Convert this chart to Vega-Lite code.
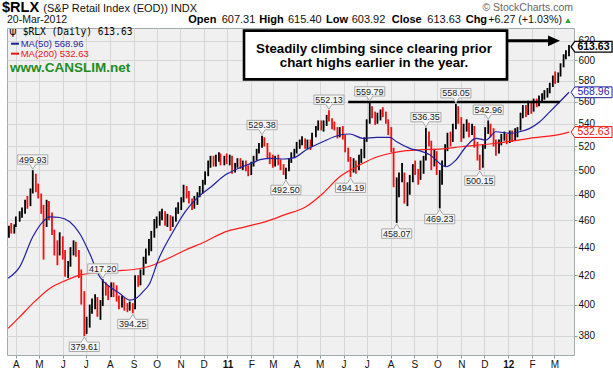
{
"$schema": "https://vega.github.io/schema/vega-lite/v6.json",
"width": 567, "height": 327,
"autosize": "none",
"padding": {"left": 7, "top": 28, "right": 39, "bottom": 17},
"background": "#ffffff",
"config": {
  "view": {"fill": "#f0f0f0", "stroke": "#a0adad", "strokeWidth": 1},
  "font": "Liberation Sans",
  "text": {"font": "Liberation Sans"}
},
"datasets": {
"px": [
{"d":"2010-03-23","o":449,"h":456,"l":447,"c":454},
{"d":"2010-03-26","o":454,"h":458,"l":450,"c":452},
{"d":"2010-03-30","o":452,"h":457,"l":450,"c":456},
{"d":"2010-04-01","o":456,"h":463,"l":455,"c":461},
{"d":"2010-04-06","o":461,"h":467,"l":459,"c":466},
{"d":"2010-04-09","o":466,"h":470,"l":462,"c":468},
{"d":"2010-04-13","o":468,"h":476,"l":465,"c":474},
{"d":"2010-04-16","o":474,"h":479,"l":469,"c":472},
{"d":"2010-04-20","o":472,"h":485,"l":471,"c":483},
{"d":"2010-04-23","o":483,"h":499.93,"l":481,"c":495},
{"d":"2010-04-27","o":495,"h":497,"l":482,"c":485},
{"d":"2010-04-30","o":485,"h":489,"l":477,"c":479},
{"d":"2010-05-04","o":479,"h":481,"l":465,"c":467},
{"d":"2010-05-07","o":467,"h":472,"l":431,"c":457},
{"d":"2010-05-11","o":457,"h":476,"l":455,"c":471},
{"d":"2010-05-14","o":471,"h":475,"l":460,"c":462},
{"d":"2010-05-18","o":462,"h":466,"l":449,"c":451},
{"d":"2010-05-21","o":451,"h":453,"l":434,"c":442},
{"d":"2010-05-25","o":442,"h":445,"l":427,"c":436},
{"d":"2010-05-28","o":436,"h":451,"l":434,"c":446},
{"d":"2010-06-01","o":446,"h":448,"l":431,"c":433},
{"d":"2010-06-04","o":433,"h":438,"l":419,"c":422},
{"d":"2010-06-08","o":422,"h":430,"l":418,"c":428},
{"d":"2010-06-11","o":428,"h":440,"l":426,"c":438},
{"d":"2010-06-15","o":438,"h":445,"l":434,"c":443},
{"d":"2010-06-18","o":443,"h":444,"l":433,"c":436},
{"d":"2010-06-22","o":436,"h":438,"l":418,"c":421},
{"d":"2010-06-25","o":421,"h":424,"l":400,"c":406},
{"d":"2010-06-29","o":406,"h":409,"l":379.61,"c":386},
{"d":"2010-07-02","o":386,"h":392,"l":381,"c":388},
{"d":"2010-07-06","o":388,"h":400,"l":385,"c":397},
{"d":"2010-07-09","o":397,"h":404,"l":394,"c":402},
{"d":"2010-07-13","o":402,"h":407,"l":397,"c":404},
{"d":"2010-07-16","o":404,"h":405,"l":392,"c":394},
{"d":"2010-07-20","o":394,"h":403,"l":390,"c":401},
{"d":"2010-07-23","o":401,"h":417.2,"l":399,"c":412},
{"d":"2010-07-27","o":412,"h":415,"l":406,"c":410},
{"d":"2010-07-30","o":410,"h":413,"l":403,"c":407},
{"d":"2010-08-03","o":407,"h":415,"l":405,"c":413},
{"d":"2010-08-06","o":413,"h":415,"l":405,"c":409},
{"d":"2010-08-10","o":409,"h":413,"l":402,"c":405},
{"d":"2010-08-13","o":405,"h":406,"l":397,"c":399},
{"d":"2010-08-17","o":399,"h":406,"l":398,"c":404},
{"d":"2010-08-20","o":404,"h":405,"l":396,"c":399},
{"d":"2010-08-24","o":399,"h":401,"l":395,"c":397},
{"d":"2010-08-27","o":397,"h":402,"l":396,"c":400},
{"d":"2010-08-31","o":400,"h":401,"l":394.25,"c":398},
{"d":"2010-09-03","o":398,"h":420,"l":397,"c":418},
{"d":"2010-09-07","o":418,"h":420,"l":412,"c":414},
{"d":"2010-09-10","o":414,"h":424,"l":413,"c":422},
{"d":"2010-09-14","o":422,"h":433,"l":420,"c":430},
{"d":"2010-09-17","o":430,"h":439,"l":428,"c":436},
{"d":"2010-09-21","o":436,"h":446,"l":434,"c":444},
{"d":"2010-09-24","o":444,"h":452,"l":437,"c":450},
{"d":"2010-09-28","o":450,"h":461,"l":447,"c":457},
{"d":"2010-10-01","o":457,"h":463,"l":454,"c":459},
{"d":"2010-10-05","o":459,"h":467,"l":456,"c":465},
{"d":"2010-10-08","o":465,"h":469,"l":460,"c":466},
{"d":"2010-10-12","o":466,"h":467,"l":456,"c":459},
{"d":"2010-10-15","o":459,"h":465,"l":455,"c":463},
{"d":"2010-10-19","o":463,"h":464,"l":452,"c":456},
{"d":"2010-10-22","o":456,"h":463,"l":455,"c":461},
{"d":"2010-10-26","o":461,"h":470,"l":459,"c":468},
{"d":"2010-10-29","o":468,"h":474,"l":465,"c":471},
{"d":"2010-11-02","o":471,"h":478,"l":468,"c":476},
{"d":"2010-11-05","o":476,"h":488,"l":474,"c":486},
{"d":"2010-11-09","o":486,"h":487,"l":477,"c":480},
{"d":"2010-11-12","o":480,"h":483,"l":473,"c":475},
{"d":"2010-11-16","o":475,"h":477,"l":468,"c":470},
{"d":"2010-11-19","o":470,"h":479,"l":469,"c":477},
{"d":"2010-11-23","o":477,"h":482,"l":472,"c":479},
{"d":"2010-11-26","o":479,"h":487,"l":478,"c":485},
{"d":"2010-11-30","o":485,"h":492,"l":481,"c":489},
{"d":"2010-12-03","o":489,"h":499,"l":488,"c":497},
{"d":"2010-12-07","o":497,"h":508,"l":495,"c":505},
{"d":"2010-12-10","o":505,"h":512,"l":502,"c":510},
{"d":"2010-12-14","o":510,"h":512,"l":503,"c":505},
{"d":"2010-12-17","o":505,"h":513,"l":503,"c":511},
{"d":"2010-12-21","o":511,"h":515,"l":507,"c":513},
{"d":"2010-12-23","o":513,"h":514,"l":504,"c":507},
{"d":"2010-12-28","o":507,"h":512,"l":504,"c":510},
{"d":"2010-12-31","o":510,"h":514,"l":505,"c":508},
{"d":"2011-01-04","o":508,"h":513,"l":504,"c":511},
{"d":"2011-01-07","o":511,"h":512,"l":497,"c":500},
{"d":"2011-01-11","o":500,"h":506,"l":498,"c":504},
{"d":"2011-01-14","o":504,"h":510,"l":502,"c":508},
{"d":"2011-01-18","o":508,"h":510,"l":501,"c":503},
{"d":"2011-01-21","o":503,"h":508,"l":500,"c":506},
{"d":"2011-01-25","o":506,"h":508,"l":499,"c":501},
{"d":"2011-01-28","o":501,"h":504,"l":495,"c":497},
{"d":"2011-02-01","o":497,"h":507,"l":496,"c":505},
{"d":"2011-02-04","o":505,"h":512,"l":503,"c":510},
{"d":"2011-02-08","o":510,"h":518,"l":508,"c":516},
{"d":"2011-02-11","o":516,"h":523,"l":514,"c":521},
{"d":"2011-02-15","o":521,"h":529.38,"l":519,"c":525},
{"d":"2011-02-18","o":525,"h":528,"l":520,"c":522},
{"d":"2011-02-22","o":522,"h":523,"l":510,"c":512},
{"d":"2011-02-25","o":512,"h":515,"l":505,"c":509},
{"d":"2011-03-01","o":509,"h":513,"l":502,"c":504},
{"d":"2011-03-04","o":504,"h":512,"l":503,"c":510},
{"d":"2011-03-08","o":510,"h":513,"l":504,"c":507},
{"d":"2011-03-11","o":507,"h":509,"l":500,"c":503},
{"d":"2011-03-15","o":503,"h":505,"l":496,"c":498},
{"d":"2011-03-18","o":498,"h":502,"l":492.5,"c":500},
{"d":"2011-03-22","o":500,"h":510,"l":499,"c":508},
{"d":"2011-03-25","o":508,"h":515,"l":506,"c":513},
{"d":"2011-03-29","o":513,"h":518,"l":510,"c":516},
{"d":"2011-04-01","o":516,"h":524,"l":514,"c":521},
{"d":"2011-04-05","o":521,"h":526,"l":518,"c":524},
{"d":"2011-04-08","o":524,"h":529,"l":521,"c":526},
{"d":"2011-04-12","o":526,"h":527,"l":518,"c":520},
{"d":"2011-04-15","o":520,"h":526,"l":518,"c":524},
{"d":"2011-04-19","o":524,"h":526,"l":517,"c":521},
{"d":"2011-04-21","o":521,"h":532,"l":520,"c":530},
{"d":"2011-04-26","o":530,"h":538,"l":528,"c":536},
{"d":"2011-04-29","o":536,"h":543,"l":534,"c":541},
{"d":"2011-05-03","o":541,"h":543,"l":534,"c":537},
{"d":"2011-05-06","o":537,"h":543,"l":533,"c":540},
{"d":"2011-05-10","o":540,"h":548,"l":538,"c":546},
{"d":"2011-05-13","o":546,"h":552.13,"l":542,"c":544},
{"d":"2011-05-17","o":544,"h":545,"l":535,"c":538},
{"d":"2011-05-20","o":538,"h":542,"l":534,"c":536},
{"d":"2011-05-24","o":536,"h":537,"l":527,"c":530},
{"d":"2011-05-27","o":530,"h":537,"l":528,"c":534},
{"d":"2011-05-31","o":534,"h":538,"l":526,"c":529},
{"d":"2011-06-03","o":529,"h":530,"l":515,"c":517},
{"d":"2011-06-07","o":517,"h":519,"l":507,"c":509},
{"d":"2011-06-10","o":509,"h":511,"l":494.19,"c":500},
{"d":"2011-06-14","o":500,"h":510,"l":498,"c":507},
{"d":"2011-06-17","o":507,"h":508,"l":497,"c":502},
{"d":"2011-06-21","o":502,"h":513,"l":500,"c":511},
{"d":"2011-06-24","o":511,"h":518,"l":506,"c":512},
{"d":"2011-06-28","o":512,"h":528,"l":510,"c":526},
{"d":"2011-07-01","o":526,"h":544,"l":524,"c":542},
{"d":"2011-07-05","o":542,"h":559.79,"l":540,"c":553},
{"d":"2011-07-08","o":553,"h":556,"l":545,"c":549},
{"d":"2011-07-12","o":549,"h":551,"l":539,"c":542},
{"d":"2011-07-15","o":542,"h":550,"l":540,"c":547},
{"d":"2011-07-19","o":547,"h":553,"l":543,"c":551},
{"d":"2011-07-22","o":551,"h":555,"l":546,"c":549},
{"d":"2011-07-26","o":549,"h":551,"l":540,"c":542},
{"d":"2011-07-29","o":542,"h":544,"l":530,"c":535},
{"d":"2011-08-02","o":535,"h":537,"l":515,"c":517},
{"d":"2011-08-05","o":517,"h":519,"l":486,"c":490},
{"d":"2011-08-09","o":470,"h":494,"l":458.07,"c":488},
{"d":"2011-08-12","o":488,"h":498,"l":478,"c":494},
{"d":"2011-08-16","o":494,"h":506,"l":490,"c":497},
{"d":"2011-08-19","o":497,"h":498,"l":473,"c":477},
{"d":"2011-08-23","o":477,"h":490,"l":471,"c":487},
{"d":"2011-08-26","o":487,"h":496,"l":480,"c":494},
{"d":"2011-08-30","o":494,"h":505,"l":490,"c":503},
{"d":"2011-09-02","o":503,"h":508,"l":496,"c":498},
{"d":"2011-09-06","o":498,"h":501,"l":488,"c":494},
{"d":"2011-09-09","o":494,"h":508,"l":492,"c":500},
{"d":"2011-09-13","o":500,"h":512,"l":497,"c":510},
{"d":"2011-09-16","o":510,"h":536.35,"l":508,"c":530},
{"d":"2011-09-20","o":530,"h":533,"l":520,"c":523},
{"d":"2011-09-23","o":523,"h":525,"l":500,"c":506},
{"d":"2011-09-27","o":506,"h":518,"l":503,"c":514},
{"d":"2011-09-30","o":514,"h":516,"l":496,"c":499},
{"d":"2011-10-04","o":475,"h":500,"l":469.23,"c":492},
{"d":"2011-10-07","o":492,"h":508,"l":488,"c":505},
{"d":"2011-10-11","o":505,"h":522,"l":503,"c":519},
{"d":"2011-10-14","o":519,"h":532,"l":516,"c":529},
{"d":"2011-10-18","o":529,"h":533,"l":520,"c":527},
{"d":"2011-10-21","o":527,"h":540,"l":524,"c":537},
{"d":"2011-10-25","o":537,"h":558.05,"l":535,"c":550},
{"d":"2011-10-28","o":550,"h":556,"l":540,"c":545},
{"d":"2011-11-01","o":545,"h":546,"l":524,"c":529},
{"d":"2011-11-04","o":529,"h":540,"l":527,"c":536},
{"d":"2011-11-08","o":536,"h":544,"l":533,"c":540},
{"d":"2011-11-11","o":540,"h":541,"l":528,"c":533},
{"d":"2011-11-15","o":533,"h":540,"l":530,"c":536},
{"d":"2011-11-18","o":536,"h":538,"l":519,"c":522},
{"d":"2011-11-22","o":522,"h":524,"l":508,"c":511},
{"d":"2011-11-25","o":511,"h":513,"l":500.15,"c":503},
{"d":"2011-11-29","o":503,"h":522,"l":502,"c":519},
{"d":"2011-12-02","o":519,"h":537,"l":518,"c":535},
{"d":"2011-12-06","o":535,"h":542.96,"l":531,"c":538},
{"d":"2011-12-09","o":538,"h":540,"l":528,"c":533},
{"d":"2011-12-13","o":533,"h":536,"l":520,"c":523},
{"d":"2011-12-16","o":523,"h":526,"l":512,"c":516},
{"d":"2011-12-20","o":516,"h":526,"l":514,"c":523},
{"d":"2011-12-23","o":523,"h":531,"l":521,"c":529},
{"d":"2011-12-27","o":529,"h":533,"l":525,"c":530},
{"d":"2011-12-30","o":530,"h":531,"l":522,"c":525},
{"d":"2012-01-03","o":525,"h":534,"l":523,"c":530},
{"d":"2012-01-06","o":530,"h":534,"l":524,"c":527},
{"d":"2012-01-10","o":527,"h":536,"l":525,"c":533},
{"d":"2012-01-13","o":533,"h":537,"l":528,"c":535},
{"d":"2012-01-17","o":535,"h":550,"l":534,"c":548},
{"d":"2012-01-20","o":548,"h":557,"l":545,"c":554},
{"d":"2012-01-24","o":554,"h":557,"l":546,"c":550},
{"d":"2012-01-27","o":550,"h":561,"l":548,"c":557},
{"d":"2012-01-31","o":557,"h":559,"l":549,"c":553},
{"d":"2012-02-03","o":553,"h":563,"l":551,"c":560},
{"d":"2012-02-07","o":560,"h":563,"l":555,"c":558},
{"d":"2012-02-10","o":558,"h":566,"l":556,"c":563},
{"d":"2012-02-14","o":563,"h":568,"l":559,"c":566},
{"d":"2012-02-17","o":566,"h":571,"l":562,"c":568},
{"d":"2012-02-21","o":568,"h":573,"l":564,"c":571},
{"d":"2012-02-24","o":571,"h":578,"l":568,"c":576},
{"d":"2012-02-28","o":576,"h":585,"l":574,"c":583},
{"d":"2012-03-02","o":583,"h":589,"l":577,"c":580},
{"d":"2012-03-06","o":580,"h":588,"l":578,"c":586},
{"d":"2012-03-09","o":586,"h":597,"l":584,"c":595},
{"d":"2012-03-13","o":595,"h":606,"l":593,"c":604},
{"d":"2012-03-16","o":604,"h":610,"l":601,"c":607},
{"d":"2012-03-20","o":607.31,"h":615.4,"l":603.92,"c":613.63}
],
"ma50": [
{"d":"2010-03-22","v":417.8},{"d":"2010-04-06","v":425.8},{"d":"2010-04-23","v":447.6},{"d":"2010-05-06","v":458.9},
{"d":"2010-05-15","v":462.7},{"d":"2010-05-28","v":462.2},{"d":"2010-06-10","v":458.9},{"d":"2010-06-23","v":450.1},
{"d":"2010-07-06","v":435.4},{"d":"2010-07-19","v":418.9},{"d":"2010-08-01","v":412.0},{"d":"2010-08-14","v":407.5},
{"d":"2010-08-27","v":403.0},{"d":"2010-09-04","v":404.1},{"d":"2010-09-13","v":408.5},{"d":"2010-09-22","v":414.3},
{"d":"2010-10-03","v":430.6},{"d":"2010-10-21","v":450.1},{"d":"2010-11-07","v":466.6},{"d":"2010-11-24","v":478.3},
{"d":"2010-12-11","v":486.4},{"d":"2010-12-29","v":495.9},{"d":"2011-01-15","v":501.4},{"d":"2011-02-01","v":505.6},
{"d":"2011-02-14","v":509.0},{"d":"2011-02-27","v":509.8},{"d":"2011-03-16","v":509.3},{"d":"2011-03-29","v":510.5},
{"d":"2011-04-13","v":516.9},{"d":"2011-05-05","v":524.1},{"d":"2011-05-27","v":530.0},{"d":"2011-06-09","v":530.9},
{"d":"2011-06-26","v":527.1},{"d":"2011-07-14","v":528.0},{"d":"2011-07-31","v":528.0},{"d":"2011-08-09","v":524.1},
{"d":"2011-08-26","v":518.4},{"d":"2011-09-12","v":515.4},{"d":"2011-09-21","v":513.0},{"d":"2011-10-04","v":505.6},
{"d":"2011-10-12","v":502.8},{"d":"2011-10-25","v":508.4},{"d":"2011-11-07","v":519.8},{"d":"2011-11-20","v":527.1},
{"d":"2011-12-03","v":525.6},{"d":"2011-12-16","v":532.9},{"d":"2012-01-03","v":531.5},{"d":"2012-01-16","v":532.9},
{"d":"2012-01-29","v":535.9},{"d":"2012-02-11","v":541.8},{"d":"2012-02-24","v":550.8},{"d":"2012-03-08","v":560.1},
{"d":"2012-03-20","v":568.96}
],
"ma200": [
{"d":"2010-03-22","v":384.5},{"d":"2010-04-06","v":391.9},{"d":"2010-04-23","v":400.8},{"d":"2010-05-15","v":410.9},
{"d":"2010-06-06","v":416.6},{"d":"2010-06-23","v":420.0},{"d":"2010-07-19","v":421.9},{"d":"2010-08-10","v":423.0},
{"d":"2010-09-01","v":424.0},{"d":"2010-09-22","v":426.3},{"d":"2010-10-11","v":430.6},{"d":"2010-11-07","v":437.8},
{"d":"2010-12-03","v":444.0},{"d":"2010-12-29","v":451.3},{"d":"2011-01-24","v":455.1},{"d":"2011-02-19","v":458.9},
{"d":"2011-03-16","v":464.2},{"d":"2011-04-13","v":470.5},{"d":"2011-05-05","v":481.0},{"d":"2011-05-27","v":494.5},
{"d":"2011-06-18","v":502.8},{"d":"2011-07-09","v":509.8},{"d":"2011-07-31","v":514.0},{"d":"2011-08-21","v":516.4},
{"d":"2011-09-12","v":517.3},{"d":"2011-10-04","v":517.8},{"d":"2011-11-01","v":519.8},{"d":"2011-12-16","v":522.8},
{"d":"2012-01-29","v":527.1},{"d":"2012-03-14","v":531.5},{"d":"2012-03-20","v":532.63}
],
"hi": [
{"d":"2010-04-23","v":499.93,"t":"499.93"},
{"d":"2010-07-23","v":417.2,"t":"417.20"},
{"d":"2011-02-15","v":529.38,"t":"529.38"},
{"d":"2011-05-13","v":552.13,"t":"552.13"},
{"d":"2011-07-05","v":559.79,"t":"559.79"},
{"d":"2011-09-16","v":536.35,"t":"536.35"},
{"d":"2011-10-25","v":558.05,"t":"558.05"},
{"d":"2011-12-06","v":542.96,"t":"542.96"}
],
"lo": [
{"d":"2010-06-29","v":379.61,"t":"379.61"},
{"d":"2010-08-31","v":394.25,"t":"394.25"},
{"d":"2011-03-18","v":492.5,"t":"492.50"},
{"d":"2011-06-10","v":494.19,"t":"494.19"},
{"d":"2011-08-09","v":458.07,"t":"458.07"},
{"d":"2011-10-04","v":469.23,"t":"469.23"},
{"d":"2011-11-25","v":500.15,"t":"500.15"}
]
},
"layer": [
{"data": {"name": "px"},
 "mark": {"type": "rule", "strokeWidth": 1.8},
 "encoding": {
  "x": {"field": "d", "type": "temporal", "title": null,
        "scale": {"type": "utc", "domain": [{"year": 2010, "month": 3, "date": 20, "hours": 12, "utc": true}, {"year": 2012, "month": 3, "date": 26, "hours": 12, "utc": true}]},
        "axis": {"orient": "bottom", "title": null, "grid": true, "gridColor": "#d6d6d6", "domain": false, "ticks": true, "tickSize": 3, "tickColor": "#8a9a9a",
                 "labelFontSize": 10, "labelColor": "#111111", "labelPadding": 1, "labelFlush": false, "labelOverlap": false,
                 "tickCount": {"interval": "month", "step": 1},
                 "labelExpr": "utcmonth(datum.value) == 0 ? utcFormat(datum.value, '%y') : slice(utcFormat(datum.value, '%b'), 0, 1)",
                 "labelFontWeight": {"condition": {"test": "utcmonth(datum.value) == 0", "value": "bold"}, "value": "normal"}}},
  "y": {"field": "l", "type": "quantitative", "title": null,
        "scale": {"type": "log", "domain": [367.9, 633], "nice": false, "zero": false},
        "axis": {"orient": "right", "title": null, "values": [380,400,420,440,460,480,500,520,540,560,580,600,620], "grid": true, "gridColor": "#d6d6d6",
                 "domain": false, "tickSize": 3, "tickColor": "#8a9a9a", "labelFontSize": 10, "labelColor": "#111111", "labelPadding": 1, "labelFlush": false}},
  "y2": {"field": "h"},
  "color": {"condition": {"test": "datum.c >= datum.o", "value": "#000000"}, "value": "#ee1111"}
 }},
{"data": {"name": "ma200"},
 "mark": {"type": "line", "color": "#ff1a1a", "strokeWidth": 1.2, "interpolate": "monotone"},
 "encoding": {"x": {"field": "d", "type": "temporal", "title": null, "scale": {"type": "utc"}},
              "y": {"field": "v", "type": "quantitative", "title": null, "scale": {"type": "log"}}}},
{"data": {"name": "ma50"},
 "mark": {"type": "line", "color": "#1f1fa0", "strokeWidth": 1.2, "interpolate": "monotone"},
 "encoding": {"x": {"field": "d", "type": "temporal", "title": null, "scale": {"type": "utc"}},
              "y": {"field": "v", "type": "quantitative", "title": null, "scale": {"type": "log"}}}},
{"data": {"values": [{"a": "2011-06-07", "b": "2012-03-08", "v": 559.79}]},
 "mark": {"type": "rule", "color": "#000000", "strokeWidth": 2.6},
 "encoding": {"x": {"field": "a", "type": "temporal", "title": null, "scale": {"type": "utc"}}, "x2": {"field": "b"},
              "y": {"field": "v", "type": "quantitative", "title": null, "scale": {"type": "log"}}}},
{"data": {"name": "hi"},
 "mark": {"type": "point", "filled": true, "fill": "#f7f7f7", "stroke": "#a9a9a9", "strokeWidth": 1, "opacity": 1, "size": 1024,
          "shape": "M-0.94,-0.96L0.94,-0.96L0.94,-0.375L0.19,-0.375L0,-0.06L-0.19,-0.375L-0.94,-0.375Z"},
 "encoding": {"x": {"field": "d", "type": "temporal", "title": null, "scale": {"type": "utc"}},
              "y": {"field": "v", "type": "quantitative", "title": null, "scale": {"type": "log"}}}},
{"data": {"name": "hi"},
 "mark": {"type": "text", "fontSize": 9, "color": "#1a1a1a", "align": "center", "baseline": "middle", "dy": -10.5},
 "encoding": {"x": {"field": "d", "type": "temporal", "title": null, "scale": {"type": "utc"}},
              "y": {"field": "v", "type": "quantitative", "title": null, "scale": {"type": "log"}},
              "text": {"field": "t"}}},
{"data": {"name": "lo"},
 "mark": {"type": "point", "filled": true, "fill": "#f7f7f7", "stroke": "#a9a9a9", "strokeWidth": 1, "opacity": 1, "size": 1024,
          "shape": "M-0.94,0.96L0.94,0.96L0.94,0.375L0.19,0.375L0,0.06L-0.19,0.375L-0.94,0.375Z"},
 "encoding": {"x": {"field": "d", "type": "temporal", "title": null, "scale": {"type": "utc"}},
              "y": {"field": "v", "type": "quantitative", "title": null, "scale": {"type": "log"}}}},
{"data": {"name": "lo"},
 "mark": {"type": "text", "fontSize": 9, "color": "#1a1a1a", "align": "center", "baseline": "middle", "dy": 11},
 "encoding": {"x": {"field": "d", "type": "temporal", "title": null, "scale": {"type": "utc"}},
              "y": {"field": "v", "type": "quantitative", "title": null, "scale": {"type": "log"}},
              "text": {"field": "t"}}},
{"data": {"values": [{}]},
 "mark": {"type": "rect", "fill": "#ffffff", "stroke": "#000000", "strokeWidth": 2.6},
 "encoding": {"x": {"datum": {"year": 2011, "month": 1, "date": 22, "hours": 14, "utc": true}, "type": "temporal", "title": null, "scale": {"type": "utc"}},
              "x2": {"datum": {"year": 2011, "month": 12, "date": 30, "hours": 9, "utc": true}},
              "y": {"datum": 630.2, "type": "quantitative", "title": null, "scale": {"type": "log"}},
              "y2": {"datum": 581.3}}},
{"data": {"values": [{}]},
 "mark": {"type": "text", "text": ["Steadily climbing since clearing prior", "chart highs earlier in the year."], "fontSize": 13.3, "fontWeight": "bold",
          "color": "#000000", "align": "center", "baseline": "alphabetic", "lineHeight": 14},
 "encoding": {"x": {"datum": {"year": 2011, "month": 7, "date": 10, "hours": 12, "utc": true}, "type": "temporal", "title": null, "scale": {"type": "utc"}},
              "y": {"datum": 606.95, "type": "quantitative", "title": null, "scale": {"type": "log"}}}},
{"data": {"values": [{}]},
 "mark": {"type": "rule", "color": "#000000", "strokeWidth": 3},
 "encoding": {"x": {"datum": {"year": 2011, "month": 12, "date": 30, "hours": 9, "utc": true}, "type": "temporal", "title": null, "scale": {"type": "utc"}},
              "x2": {"datum": {"year": 2012, "month": 2, "date": 24, "hours": 7, "utc": true}},
              "y": {"datum": 619.7, "type": "quantitative", "title": null, "scale": {"type": "log"}}}},
{"data": {"values": [{}]},
 "mark": {"type": "point", "filled": true, "color": "#000000", "opacity": 1, "size": 144, "shape": "M-1,-0.9L1,0L-1,0.9Z"},
 "encoding": {"x": {"datum": {"year": 2012, "month": 2, "date": 29, "hours": 12, "utc": true}, "type": "temporal", "title": null, "scale": {"type": "utc"}},
              "y": {"datum": 619.7, "type": "quantitative", "title": null, "scale": {"type": "log"}}}},
{"data": {"values": [{}]},
 "mark": {"type": "text", "text": "ψ", "font": "DejaVu Sans", "fontSize": 11, "color": "#000000", "align": "center", "baseline": "middle"},
 "encoding": {"x": {"datum": {"year": 2010, "month": 3, "date": 28, "hours": 7, "utc": true}, "type": "temporal", "title": null, "scale": {"type": "utc"}},
              "y": {"datum": 628.5, "type": "quantitative", "title": null, "scale": {"type": "log"}}}},
{"data": {"values": [{}]},
 "mark": {"type": "text", "text": "$RLX (Daily) 613.63", "font": "DejaVu Sans Mono", "fontSize": 9.6, "color": "#000000", "align": "left", "baseline": "middle"},
 "encoding": {"x": {"datum": {"year": 2010, "month": 4, "date": 9, "hours": 21, "minutes": 50, "utc": true}, "type": "temporal", "title": null, "scale": {"type": "utc"}},
              "y": {"datum": 628.5, "type": "quantitative", "title": null, "scale": {"type": "log"}}}},
{"data": {"values": [{}]},
 "mark": {"type": "rule", "color": "#1f1fa0", "strokeWidth": 2},
 "encoding": {"x": {"datum": {"year": 2010, "month": 3, "date": 25, "hours": 16, "minutes": 50, "utc": true}, "type": "temporal", "title": null, "scale": {"type": "utc"}},
              "x2": {"datum": {"year": 2010, "month": 4, "date": 5, "hours": 2, "minutes": 20, "utc": true}},
              "y": {"datum": 616.7, "type": "quantitative", "title": null, "scale": {"type": "log"}}}},
{"data": {"values": [{}]},
 "mark": {"type": "text", "text": "MA(50) 568.96", "fontSize": 9.5, "color": "#1f1fa0", "align": "left", "baseline": "middle"},
 "encoding": {"x": {"datum": {"year": 2010, "month": 4, "date": 7, "hours": 7, "minutes": 30, "utc": true}, "type": "temporal", "title": null, "scale": {"type": "utc"}},
              "y": {"datum": 616.7, "type": "quantitative", "title": null, "scale": {"type": "log"}}}},
{"data": {"values": [{}]},
 "mark": {"type": "rule", "color": "#ee1111", "strokeWidth": 2},
 "encoding": {"x": {"datum": {"year": 2010, "month": 3, "date": 25, "hours": 16, "minutes": 50, "utc": true}, "type": "temporal", "title": null, "scale": {"type": "utc"}},
              "x2": {"datum": {"year": 2010, "month": 4, "date": 5, "hours": 2, "minutes": 20, "utc": true}},
              "y": {"datum": 606.6, "type": "quantitative", "title": null, "scale": {"type": "log"}}}},
{"data": {"values": [{}]},
 "mark": {"type": "text", "text": "MA(200) 532.63", "fontSize": 9.5, "color": "#ee1111", "align": "left", "baseline": "middle"},
 "encoding": {"x": {"datum": {"year": 2010, "month": 4, "date": 7, "hours": 7, "minutes": 30, "utc": true}, "type": "temporal", "title": null, "scale": {"type": "utc"}},
              "y": {"datum": 606.6, "type": "quantitative", "title": null, "scale": {"type": "log"}}}},
{"data": {"values": [{}]},
 "mark": {"type": "text", "text": "www.CANSLIM.net", "fontSize": 13.5, "fontWeight": "bold", "color": "#1e8c1e", "align": "left", "baseline": "middle"},
 "encoding": {"x": {"datum": {"year": 2010, "month": 3, "date": 24, "hours": 9, "minutes": 35, "utc": true}, "type": "temporal", "title": null, "scale": {"type": "utc"}},
              "y": {"datum": 592.0, "type": "quantitative", "title": null, "scale": {"type": "log"}}}},
{"data": {"values": [{}]},
 "mark": {"type": "text", "text": "$RLX", "fontSize": 14.5, "fontWeight": "bold", "color": "#000000", "align": "left", "baseline": "alphabetic"},
 "encoding": {"x": {"datum": {"year": 2010, "month": 3, "date": 14, "hours": 0, "utc": true}, "type": "temporal", "title": null, "scale": {"type": "utc"}},
              "y": {"datum": 649.6, "type": "quantitative", "title": null, "scale": {"type": "log"}}}},
{"data": {"values": [{}]},
 "mark": {"type": "text", "text": "(S&P Retail Index (EOD)) INDX", "fontSize": 11, "color": "#111111", "align": "left", "baseline": "alphabetic"},
 "encoding": {"x": {"datum": {"year": 2010, "month": 5, "date": 6, "hours": 16, "minutes": 20, "utc": true}, "type": "temporal", "title": null, "scale": {"type": "utc"}},
              "y": {"datum": 649.6, "type": "quantitative", "title": null, "scale": {"type": "log"}}}},
{"data": {"values": [{}]},
 "mark": {"type": "text", "text": "© StockCharts.com", "fontSize": 10.5, "color": "#666666", "align": "right", "baseline": "alphabetic"},
 "encoding": {"x": {"datum": {"year": 2012, "month": 3, "date": 25, "hours": 4, "minutes": 50, "utc": true}, "type": "temporal", "title": null, "scale": {"type": "utc"}},
              "y": {"datum": 651.0, "type": "quantitative", "title": null, "scale": {"type": "log"}}}},
{"data": {"values": [{}]},
 "mark": {"type": "text", "text": "20-Mar-2012", "fontSize": 10.5, "color": "#111111", "align": "left", "baseline": "alphabetic"},
 "encoding": {"x": {"datum": {"year": 2010, "month": 3, "date": 20, "hours": 12, "utc": true}, "type": "temporal", "title": null, "scale": {"type": "utc"}},
              "y": {"datum": 638.5, "type": "quantitative", "title": null, "scale": {"type": "log"}}}},
{"data": {"values": [{}]},
 "mark": {"type": "text", "text": "Open", "fontSize": 11, "fontWeight": "bold", "color": "#000000", "align": "left", "baseline": "alphabetic"},
 "encoding": {"x": {"datum": {"year": 2010, "month": 11, "date": 11, "hours": 3, "minutes": 50, "utc": true}, "type": "temporal", "title": null, "scale": {"type": "utc"}},
              "y": {"datum": 638.8, "type": "quantitative", "title": null, "scale": {"type": "log"}}}},
{"data": {"values": [{}]},
 "mark": {"type": "text", "text": "607.31", "fontSize": 11, "color": "#111111", "align": "left", "baseline": "alphabetic"},
 "encoding": {"x": {"datum": {"year": 2010, "month": 12, "date": 24, "hours": 13, "minutes": 40, "utc": true}, "type": "temporal", "title": null, "scale": {"type": "utc"}},
              "y": {"datum": 638.8, "type": "quantitative", "title": null, "scale": {"type": "log"}}}},
{"data": {"values": [{}]},
 "mark": {"type": "text", "text": "High", "fontSize": 11, "fontWeight": "bold", "color": "#000000", "align": "left", "baseline": "alphabetic"},
 "encoding": {"x": {"datum": {"year": 2011, "month": 2, "date": 11, "hours": 10, "minutes": 30, "utc": true}, "type": "temporal", "title": null, "scale": {"type": "utc"}},
              "y": {"datum": 638.8, "type": "quantitative", "title": null, "scale": {"type": "log"}}}},
{"data": {"values": [{}]},
 "mark": {"type": "text", "text": "615.40", "fontSize": 11, "color": "#111111", "align": "left", "baseline": "alphabetic"},
 "encoding": {"x": {"datum": {"year": 2011, "month": 3, "date": 20, "hours": 18, "utc": true}, "type": "temporal", "title": null, "scale": {"type": "utc"}},
              "y": {"datum": 638.8, "type": "quantitative", "title": null, "scale": {"type": "log"}}}},
{"data": {"values": [{}]},
 "mark": {"type": "text", "text": "Low", "fontSize": 11, "fontWeight": "bold", "color": "#000000", "align": "left", "baseline": "alphabetic"},
 "encoding": {"x": {"datum": {"year": 2011, "month": 5, "date": 9, "hours": 3, "minutes": 20, "utc": true}, "type": "temporal", "title": null, "scale": {"type": "utc"}},
              "y": {"datum": 638.8, "type": "quantitative", "title": null, "scale": {"type": "log"}}}},
{"data": {"values": [{}]},
 "mark": {"type": "text", "text": "603.92", "fontSize": 11, "color": "#111111", "align": "left", "baseline": "alphabetic"},
 "encoding": {"x": {"datum": {"year": 2011, "month": 6, "date": 11, "hours": 13, "utc": true}, "type": "temporal", "title": null, "scale": {"type": "utc"}},
              "y": {"datum": 638.8, "type": "quantitative", "title": null, "scale": {"type": "log"}}}},
{"data": {"values": [{}]},
 "mark": {"type": "text", "text": "Close", "fontSize": 11, "fontWeight": "bold", "color": "#000000", "align": "left", "baseline": "alphabetic"},
 "encoding": {"x": {"datum": {"year": 2011, "month": 8, "date": 2, "hours": 13, "utc": true}, "type": "temporal", "title": null, "scale": {"type": "utc"}},
              "y": {"datum": 638.8, "type": "quantitative", "title": null, "scale": {"type": "log"}}}},
{"data": {"values": [{}]},
 "mark": {"type": "text", "text": "613.63", "fontSize": 11, "color": "#111111", "align": "left", "baseline": "alphabetic"},
 "encoding": {"x": {"datum": {"year": 2011, "month": 9, "date": 17, "hours": 19, "minutes": 30, "utc": true}, "type": "temporal", "title": null, "scale": {"type": "utc"}},
              "y": {"datum": 638.8, "type": "quantitative", "title": null, "scale": {"type": "log"}}}},
{"data": {"values": [{}]},
 "mark": {"type": "text", "text": "Chg", "fontSize": 11, "fontWeight": "bold", "color": "#000000", "align": "left", "baseline": "alphabetic"},
 "encoding": {"x": {"datum": {"year": 2011, "month": 11, "date": 6, "hours": 17, "minutes": 30, "utc": true}, "type": "temporal", "title": null, "scale": {"type": "utc"}},
              "y": {"datum": 638.8, "type": "quantitative", "title": null, "scale": {"type": "log"}}}},
{"data": {"values": [{}]},
 "mark": {"type": "text", "text": "+6.27 (+1.03%)", "fontSize": 10.7, "color": "#111111", "align": "left", "baseline": "alphabetic"},
 "encoding": {"x": {"datum": {"year": 2011, "month": 12, "date": 6, "hours": 2, "minutes": 30, "utc": true}, "type": "temporal", "title": null, "scale": {"type": "utc"}},
              "y": {"datum": 638.8, "type": "quantitative", "title": null, "scale": {"type": "log"}}}},
{"data": {"values": [{}]},
 "mark": {"type": "point", "shape": "triangle-up", "filled": true, "color": "#22aa22", "opacity": 1, "size": 30},
 "encoding": {"x": {"datum": {"year": 2012, "month": 3, "date": 18, "hours": 17, "utc": true}, "type": "temporal", "title": null, "scale": {"type": "utc"}},
              "y": {"datum": 640.9, "type": "quantitative", "title": null, "scale": {"type": "log"}}}},
{"data": {"values": [{}]},
 "mark": {"type": "point", "filled": true, "fill": "#ffffff", "stroke": "#000000", "strokeWidth": 1.3, "opacity": 1, "size": 1600,
          "shape": "M-1.12,0L-0.93,-0.27L0.93,-0.27L0.93,0.27L-0.93,0.27Z"},
 "encoding": {"x": {"datum": {"year": 2012, "month": 4, "date": 20, "hours": 19, "utc": true}, "type": "temporal", "title": null, "scale": {"type": "utc"}},
              "y": {"datum": 613.63, "type": "quantitative", "title": null, "scale": {"type": "log"}}}},
{"data": {"values": [{}]},
 "mark": {"type": "text", "text": "613.63", "fontSize": 10.5, "fontWeight": "bold", "color": "#000000", "align": "center", "baseline": "middle"},
 "encoding": {"x": {"datum": {"year": 2012, "month": 4, "date": 20, "hours": 19, "utc": true}, "type": "temporal", "title": null, "scale": {"type": "utc"}},
              "y": {"datum": 613.63, "type": "quantitative", "title": null, "scale": {"type": "log"}}}},
{"data": {"values": [{}]},
 "mark": {"type": "point", "filled": true, "fill": "#ffffff", "stroke": "#1f1fa0", "strokeWidth": 1, "opacity": 1, "size": 1600,
          "shape": "M-1.12,0L-0.93,-0.27L0.93,-0.27L0.93,0.27L-0.93,0.27Z"},
 "encoding": {"x": {"datum": {"year": 2012, "month": 4, "date": 20, "hours": 19, "utc": true}, "type": "temporal", "title": null, "scale": {"type": "utc"}},
              "y": {"datum": 568.96, "type": "quantitative", "title": null, "scale": {"type": "log"}}}},
{"data": {"values": [{}]},
 "mark": {"type": "text", "text": "568.96", "fontSize": 10.5, "color": "#1f1fa0", "align": "center", "baseline": "middle"},
 "encoding": {"x": {"datum": {"year": 2012, "month": 4, "date": 20, "hours": 19, "utc": true}, "type": "temporal", "title": null, "scale": {"type": "utc"}},
              "y": {"datum": 568.96, "type": "quantitative", "title": null, "scale": {"type": "log"}}}},
{"data": {"values": [{}]},
 "mark": {"type": "point", "filled": true, "fill": "#ffffff", "stroke": "#ee1111", "strokeWidth": 1, "opacity": 1, "size": 1600,
          "shape": "M-1.12,0L-0.93,-0.27L0.93,-0.27L0.93,0.27L-0.93,0.27Z"},
 "encoding": {"x": {"datum": {"year": 2012, "month": 4, "date": 20, "hours": 19, "utc": true}, "type": "temporal", "title": null, "scale": {"type": "utc"}},
              "y": {"datum": 532.63, "type": "quantitative", "title": null, "scale": {"type": "log"}}}},
{"data": {"values": [{}]},
 "mark": {"type": "text", "text": "532.63", "fontSize": 10.5, "color": "#ee1111", "align": "center", "baseline": "middle"},
 "encoding": {"x": {"datum": {"year": 2012, "month": 4, "date": 20, "hours": 19, "utc": true}, "type": "temporal", "title": null, "scale": {"type": "utc"}},
              "y": {"datum": 532.63, "type": "quantitative", "title": null, "scale": {"type": "log"}}}}
]
}
